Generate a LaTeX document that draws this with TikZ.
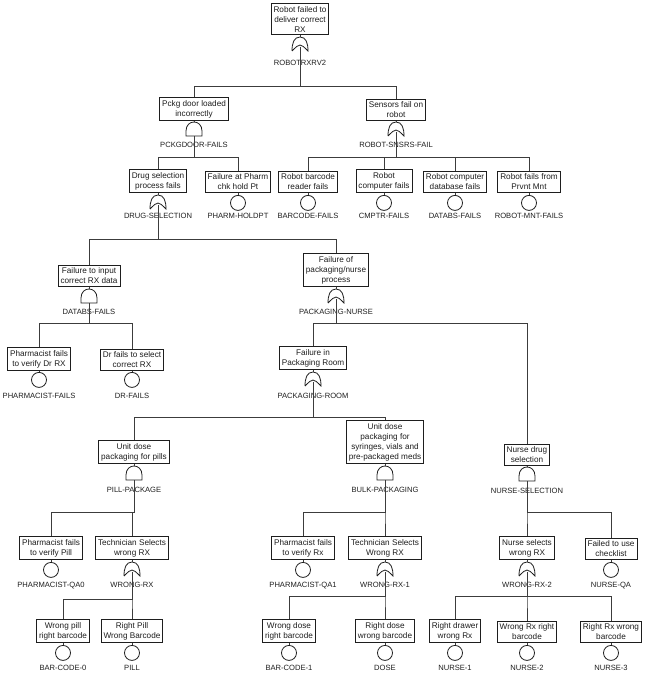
\documentclass[tikz,border=0pt]{standalone}
\usepackage{fontspec}
\setmainfont{Liberation Sans}
\usetikzlibrary{positioning,calc}
\definecolor{TreeLine}{HTML}{3C3C3C}
\definecolor{TreeInk}{HTML}{1E1E1E}

% gate symbols drawn inside an empty node
\newcommand{\orgate}[1]{%
  \draw[gateline] (#1.south west) .. controls ([yshift=8pt]#1.south west) and ([xshift=2pt]#1.north west) .. (#1.north)
    .. controls ([xshift=-2pt]#1.north east) and ([yshift=8pt]#1.south east) .. (#1.south east)
    .. controls ([yshift=8pt]#1.south) .. (#1.south west);}
\newcommand{\andgate}[1]{%
  \draw[gateline] (#1.south west) -- ([yshift=5pt]#1.south west)
    .. controls ([yshift=3pt]#1.north west) and ([yshift=3pt]#1.north east) .. ([yshift=5pt]#1.south east)
    -- (#1.south east) -- cycle;}

\begin{document}
\begin{tikzpicture}[
			x=1pt,y=-1pt,
			box/.style={draw=TreeInk,line width=0.9pt,fill=white,anchor=south,align=center,inner xsep=2.5pt,inner ysep=2.5pt,
				text=TreeInk,font=\fontsize{8.2}{10}\selectfont},
			gatebox/.style={minimum width=16pt,minimum height=14pt,inner sep=0pt,outer sep=0pt},
			gateline/.style={draw=TreeInk,line width=0.8pt},
			evt/.style={circle,draw=TreeInk,line width=0.8pt,minimum size=15pt,inner sep=0pt},
			lbl/.style={inner sep=0.5pt,text=TreeInk,font=\fontsize{7.6}{9}\selectfont},
			conn/.style={draw=TreeLine,line width=0.8pt}
		]
		\useasboundingbox (0,0) rectangle (646,677);
		% top event
		\node[box] (top) at (300,35) {Robot failed to\\deliver correct\\RX};
		\node[gatebox,below=2pt of top] (g0) {}; \orgate{g0}
		\node[lbl,below=8pt of g0] (l0) {ROBOTRXRV2};
		\coordinate (b0) at (300,86);
		% second level
		\node[box] (pckg) at (194,121) {Pckg door loaded\\incorrectly};
		\node[box] (sens) at (396,121) {Sensors fail on\\robot};
		\node[gatebox,below=1pt of pckg] (gpckg) {}; \andgate{gpckg}
		\node[gatebox,below=1pt of sens] (gsens) {}; \orgate{gsens}
		\node[lbl,below=5pt of gpckg] (lpckg) {PCKGDOOR-FAILS};
		\node[lbl,below=5pt of gsens] (lsens) {ROBOT-SNSRS-FAIL};
		\coordinate (bpckg) at (194,157);
		\coordinate (bsens) at (396,157);
		% third level
		\node[box] (drug) at (158,193) {Drug selection\\process fails};
		\node[box] (pharm) at (238,193) {Failure at Pharm\\chk hold Pt};
		\node[box] (barc) at (308,193) {Robot barcode\\reader fails};
		\node[box] (cmptr) at (384,193) {Robot\\computer fails};
		\node[box] (dbase) at (455,193) {Robot computer\\database fails};
		\node[box] (mnt) at (529,193) {Robot fails from\\Prvnt Mnt};
		\node[gatebox,below=2pt of drug] (gdrug) {}; \orgate{gdrug}
		\node[evt,below=2pt of pharm] (epharm) {};
		\node[evt,below=2pt of barc] (ebarc) {};
		\node[evt,below=2pt of cmptr] (ecmptr) {};
		\node[evt,below=2pt of dbase] (edbase) {};
		\node[evt,below=2pt of mnt] (emnt) {};
		\node[lbl,below=3pt of gdrug] (ldrug) {DRUG-SELECTION};
		\node[lbl,below=2pt of epharm] {PHARM-HOLDPT};
		\node[lbl,below=2pt of ebarc] {BARCODE-FAILS};
		\node[lbl,below=2pt of ecmptr] {CMPTR-FAILS};
		\node[lbl,below=2pt of edbase] {DATABS-FAILS};
		\node[lbl,below=2pt of emnt] {ROBOT-MNT-FAILS};
		\coordinate (bdrug) at (158,239);
		% fourth level
		\node[box] (input) at (89,287) {Failure to input\\correct RX data};
		\node[box] (pkgn) at (336,287) {Failure of\\packaging/nurse\\process};
		\node[gatebox,below=2pt of input] (ginput) {}; \andgate{ginput}
		\node[gatebox,below=2pt of pkgn] (gpkgn) {}; \orgate{gpkgn}
		\node[lbl,below=5pt of ginput] (linput) {DATABS-FAILS};
		\node[lbl,below=5pt of gpkgn] (lpkgn) {PACKAGING-NURSE};
		\coordinate (binput) at (89,323);
		\coordinate (bpkgn) at (336,323);
		% fifth level
		\node[box] (pharmdr) at (39,371) {Pharmacist fails\\to verify Dr RX};
		\node[box] (drfail) at (132,371) {Dr fails to select\\correct RX};
		\node[box] (room) at (313,370) {Failure in\\Packaging Room};
		\node[evt,below=1pt of pharmdr] (epharmdr) {};
		\node[evt,below=1pt of drfail] (edrfail) {};
		\node[gatebox,below=2pt of room] (groom) {}; \orgate{groom}
		\node[lbl,below=5pt of epharmdr] {PHARMACIST-FAILS};
		\node[lbl,below=5pt of edrfail] {DR-FAILS};
		\node[lbl,below=6pt of groom] (lroom) {PACKAGING-ROOM};
		\coordinate (broom) at (313,417);
		% sixth level
		\node[box] (pills) at (134,464) {Unit dose\\packaging for pills};
		\node[box] (bulk) at (385,464) {Unit dose\\packaging for\\syringes, vials and\\pre-packaged meds};
		\node[box] (nsel) at (527,466) {Nurse drug\\selection};
		\node[gatebox,below=2pt of pills] (gpills) {}; \andgate{gpills}
		\node[gatebox,below=2pt of bulk] (gbulk) {}; \andgate{gbulk}
		\node[gatebox,below=1pt of nsel] (gnsel) {}; \andgate{gnsel}
		\node[lbl,below=6pt of gpills] (lpills) {PILL-PACKAGE};
		\node[lbl,below=6pt of gbulk] (lbulk) {BULK-PACKAGING};
		\node[lbl,below=6pt of gnsel] (lnsel) {NURSE-SELECTION};
		\coordinate (bpills) at (134,512);
		\coordinate (bbulk) at (385,512);
		\coordinate (bnsel) at (527,512);
		% seventh level
		\node[box] (pqa0) at (51,560) {Pharmacist fails\\to verify Pill};
		\node[box] (wrx) at (132,560) {Technician Selects\\wrong RX};
		\node[box] (pqa1) at (303,560) {Pharmacist fails\\to verify Rx};
		\node[box] (wrx1) at (385,560) {Technician Selects\\Wrong RX};
		\node[box] (wrx2) at (527,560) {Nurse selects\\wrong RX};
		\node[box] (nqa) at (611,560) {Failed to use\\checklist};
		\node[evt,below=2pt of pqa0] (epqa0) {};
		\node[gatebox,below=2pt of wrx] (gwrx) {}; \orgate{gwrx}
		\node[evt,below=2pt of pqa1] (epqa1) {};
		\node[gatebox,below=2pt of wrx1] (gwrx1) {}; \orgate{gwrx1}
		\node[gatebox,below=2pt of wrx2] (gwrx2) {}; \orgate{gwrx2}
		\node[evt,below=2pt of nqa] (enqa) {};
		\node[lbl,below=4pt of epqa0] {PHARMACIST-QA0};
		\node[lbl,below=5pt of gwrx] (lwrx) {WRONG-RX};
		\node[lbl,below=4pt of epqa1] {PHARMACIST-QA1};
		\node[lbl,below=5pt of gwrx1] (lwrx1) {WRONG-RX-1};
		\node[lbl,below=5pt of gwrx2] (lwrx2) {WRONG-RX-2};
		\node[lbl,below=4pt of enqa] {NURSE-QA};
		\coordinate (bwrx) at (132,599);
		\coordinate (bwrx1) at (385,596);
		\coordinate (bwrx2) at (527,596);
		% basic events at the bottom
		\node[box] (bc0) at (63,643) {Wrong pill\\right barcode};
		\node[box] (pill) at (132,643) {Right Pill\\Wrong Barcode};
		\node[box] (bc1) at (289,643) {Wrong dose\\right barcode};
		\node[box] (dose) at (385,643) {Right dose\\wrong barcode};
		\node[box] (n1) at (455,643) {Right drawer\\wrong Rx};
		\node[box] (n2) at (527,643) {Wrong Rx right\\barcode};
		\node[box] (n3) at (611,643) {Right Rx wrong\\barcode};
		\foreach \ev/\txt in {bc0/BAR-CODE-0,pill/PILL,bc1/BAR-CODE-1,dose/DOSE,n1/NURSE-1,n2/NURSE-2,n3/NURSE-3}{
			\node[evt,below=2pt of \ev] (e\ev) {};
			\node[lbl,below=4pt of e\ev] {\txt};
			\draw[conn] (\ev.south) -- (e\ev.north);
		}
		% box to symbol
		\foreach \a/\b in {top/g0,pckg/gpckg,sens/gsens,drug/gdrug,pharm/epharm,barc/ebarc,cmptr/ecmptr,dbase/edbase,mnt/emnt,
			input/ginput,pkgn/gpkgn,pharmdr/epharmdr,drfail/edrfail,room/groom,pills/gpills,bulk/gbulk,nsel/gnsel,
			pqa0/epqa0,wrx/gwrx,pqa1/epqa1,wrx1/gwrx1,wrx2/gwrx2,nqa/enqa}
			\draw[conn] (\a.south) -- (\b.north);
		% OR gates: line starts inside the gate
		\foreach \g/\brk/\kids in {g0/b0/{pckg,sens},gsens/bsens/{barc,cmptr,dbase,mnt},gdrug/bdrug/{input,pkgn},
			gpkgn/bpkgn/{room,nsel},groom/broom/{pills,bulk},gwrx/bwrx/{bc0,pill},gwrx1/bwrx1/{bc1,dose},gwrx2/bwrx2/{n1,n2,n3}}
			\foreach \k in \kids
				\draw[conn] ([yshift=4pt]\g.south) -- (\g.south |- \brk) -| (\k.north);
		% AND gates
		\foreach \g/\brk/\kids in {gpckg/bpckg/{drug,pharm},ginput/binput/{pharmdr,drfail},gpills/bpills/{pqa0,wrx},
			gbulk/bbulk/{pqa1,wrx1},gnsel/bnsel/{wrx2,nqa}}
			\foreach \k in \kids
				\draw[conn] (\g.south) -- (\g.south |- \brk) -| (\k.north);
	\end{tikzpicture}
\end{document}
